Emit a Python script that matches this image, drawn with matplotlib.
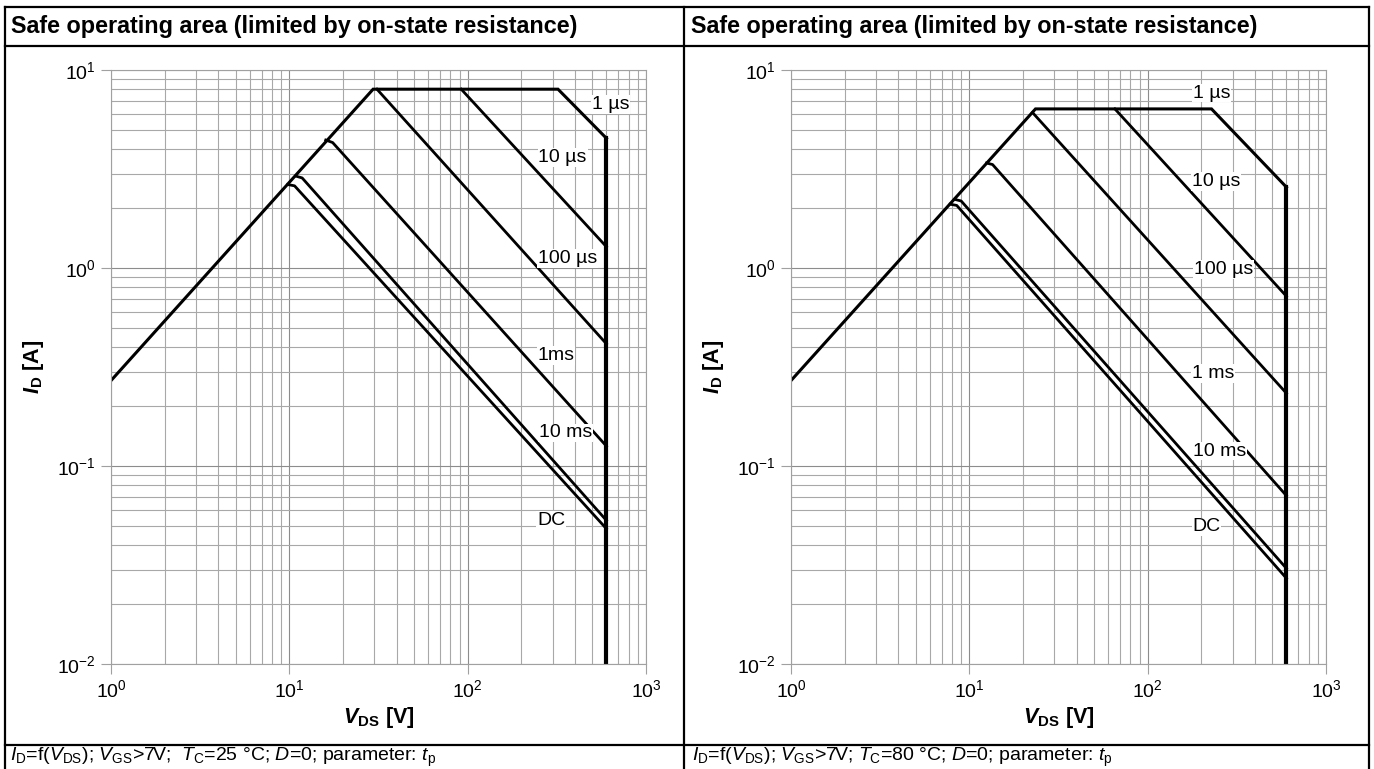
import numpy as np
import matplotlib
matplotlib.use("Agg")
import matplotlib.pyplot as plt
from matplotlib.lines import Line2D

plt.rcParams['font.family'] = ['Liberation Sans', 'DejaVu Sans']
plt.rcParams['mathtext.fontset'] = 'custom'
plt.rcParams['mathtext.rm'] = 'Liberation Sans'
plt.rcParams['mathtext.it'] = 'Liberation Sans:italic'
plt.rcParams['mathtext.bf'] = 'Liberation Sans:bold'
plt.rcParams['mathtext.bfit'] = 'Liberation Sans:bold:italic'

W, H = 1374, 769

# ---- data (V in volts, I in amps) ----
# Tc = 25 C
env_25_v = [1, 29.5, 321, 600]
env_25_i = [0.27, 8.0, 8.0, 4.52]
us10_25_v = [92, 600]
us10_25_i = [8.0, 1.28]
us100_25_v = [31, 600]
us100_25_i = [8.0, 0.414]
ms1_25_v = [16.0, 17.5, 600]
ms1_25_i = [4.43, 4.3, 0.126]
ms10_25_v = [10.9, 11.8, 600]
ms10_25_i = [2.91, 2.85, 0.0531]
dc_25_v = [9.8, 10.7, 600]
dc_25_i = [2.64, 2.6, 0.0482]

# Tc = 80 C
env_80_v = [1, 23.5, 228, 600]
env_80_i = [0.27, 6.36, 6.36, 2.56]
us10_80_v = [65.5, 600]
us10_80_i = [6.36, 0.72]
us100_80_v = [22.6, 600]
us100_80_i = [6.1, 0.233]
ms1_80_v = [12.5, 13.5, 600]
ms1_80_i = [3.39, 3.33, 0.0708]
ms10_80_v = [8.3, 9.0, 600]
ms10_80_i = [2.22, 2.18, 0.0304]
dc_80_v = [7.8, 8.5, 600]
dc_80_i = [2.1, 2.07, 0.0271]

v_max = 600
i_min = 0.01

labels_25 = ['1 µs', '10 µs', '100 µs', '1ms', '10 ms', 'DC']
label_25_v = [631, 341, 364, 313, 352, 294]
label_25_i = [6.68, 3.62, 1.12, 0.362, 0.147, 0.053]

labels_80 = ['1 µs', '10 µs', '100 µs', '1 ms', '10 ms', 'DC']
label_80_v = [228, 243, 265, 233, 254, 214]
label_80_i = [7.65, 2.73, 0.98, 0.293, 0.119, 0.0492]

title = "Safe operating area (limited by on-state resistance)"
foot_25 = (r"$\mathit{I}_{\mathrm{D}}$=f($\mathit{V}_{\mathrm{DS}}$); $\mathit{V}_{\mathrm{GS}}$>7V;  "
           r"$\mathit{T}_{\mathrm{C}}$=25 °C; $\mathit{D}$=0; parameter: $\mathit{t}_{\mathrm{p}}$")
foot_80 = (r"$\mathit{I}_{\mathrm{D}}$=f($\mathit{V}_{\mathrm{DS}}$); $\mathit{V}_{\mathrm{GS}}$>7V; "
           r"$\mathit{T}_{\mathrm{C}}$=80 °C; $\mathit{D}$=0; parameter: $\mathit{t}_{\mathrm{p}}$")


def fx(x):
    return x / W


def fy(y):
    return 1 - y / H


fig = plt.figure(figsize=(W / 100, H / 100), dpi=100)

# table frame
def hline(y, x0, x1):
    fig.add_artist(Line2D([fx(x0), fx(x1)], [fy(y), fy(y)], color='black', lw=1.6))


def vline(x, y0, y1):
    fig.add_artist(Line2D([fx(x), fx(x)], [fy(y0), fy(y1)], color='black', lw=1.6))


hline(7, 5, 1369)
hline(46, 5, 1369)
hline(745, 5, 1369)
vline(5, 7, 769)
vline(684, 7, 769)
vline(1369, 7, 769)

fig.text(fx(11), fy(27), title, fontsize=16.8, fontweight='bold', va='center')
fig.text(fx(691), fy(27), title, fontsize=16.8, fontweight='bold', va='center')
fig.text(fx(10), fy(757), foot_25, fontsize=14, va='center')
fig.text(fx(692), fy(757), foot_80, fontsize=14, va='center')


def make_panel(left_px, curves, env_v, env_i, labels, lab_v, lab_i):
    ax = fig.add_axes([fx(left_px), fy(664), 535 / W, 594 / H])
    ax.set_xscale('log')
    ax.set_yscale('log')
    ax.set_xlim(1, 1000)
    ax.set_ylim(0.01, 10)
    ax.grid(which='major', color='#8c8c8c', lw=0.8)
    ax.grid(which='minor', color='#a8a8a8', lw=0.8)
    ax.set_axisbelow(True)
    for s in ax.spines.values():
        s.set_color('#a0a0a0')
        s.set_linewidth(0.8)
    ax.tick_params(which='major', length=7, color='#a0a0a0', width=0.8, labelsize=14, pad=4)
    ax.tick_params(which='minor', length=0)

    ax.plot(env_v, env_i, color='black', lw=2.2, solid_joinstyle='miter')
    for v, i in curves:
        ax.plot(v, i, color='black', lw=2.0)
    ax.plot([v_max, v_max], [env_i[-1], i_min], color='black', lw=3.0)

    for t, v, i in zip(labels, lab_v, lab_i):
        ax.text(v, i, t, fontsize=14, ha='center', va='center', zorder=5,
                bbox=dict(facecolor='white', edgecolor='none', pad=0.5))

    ax.set_xlabel(r"$\mathbfit{V}_{\mathbf{DS}}$ [V]", fontsize=15.5, fontweight='bold', labelpad=3)
    ax.set_ylabel(r"$\mathbfit{I}_{\mathbf{D}}$ [A]", fontsize=15.5, fontweight='bold', labelpad=8)
    return ax


make_panel(111, [(us10_25_v, us10_25_i), (us100_25_v, us100_25_i), (ms1_25_v, ms1_25_i),
                 (ms10_25_v, ms10_25_i), (dc_25_v, dc_25_i)],
           env_25_v, env_25_i, labels_25, label_25_v, label_25_i)
make_panel(791, [(us10_80_v, us10_80_i), (us100_80_v, us100_80_i), (ms1_80_v, ms1_80_i),
                 (ms10_80_v, ms10_80_i), (dc_80_v, dc_80_i)],
           env_80_v, env_80_i, labels_80, label_80_v, label_80_i)

fig.savefig("out.png", dpi=100)
